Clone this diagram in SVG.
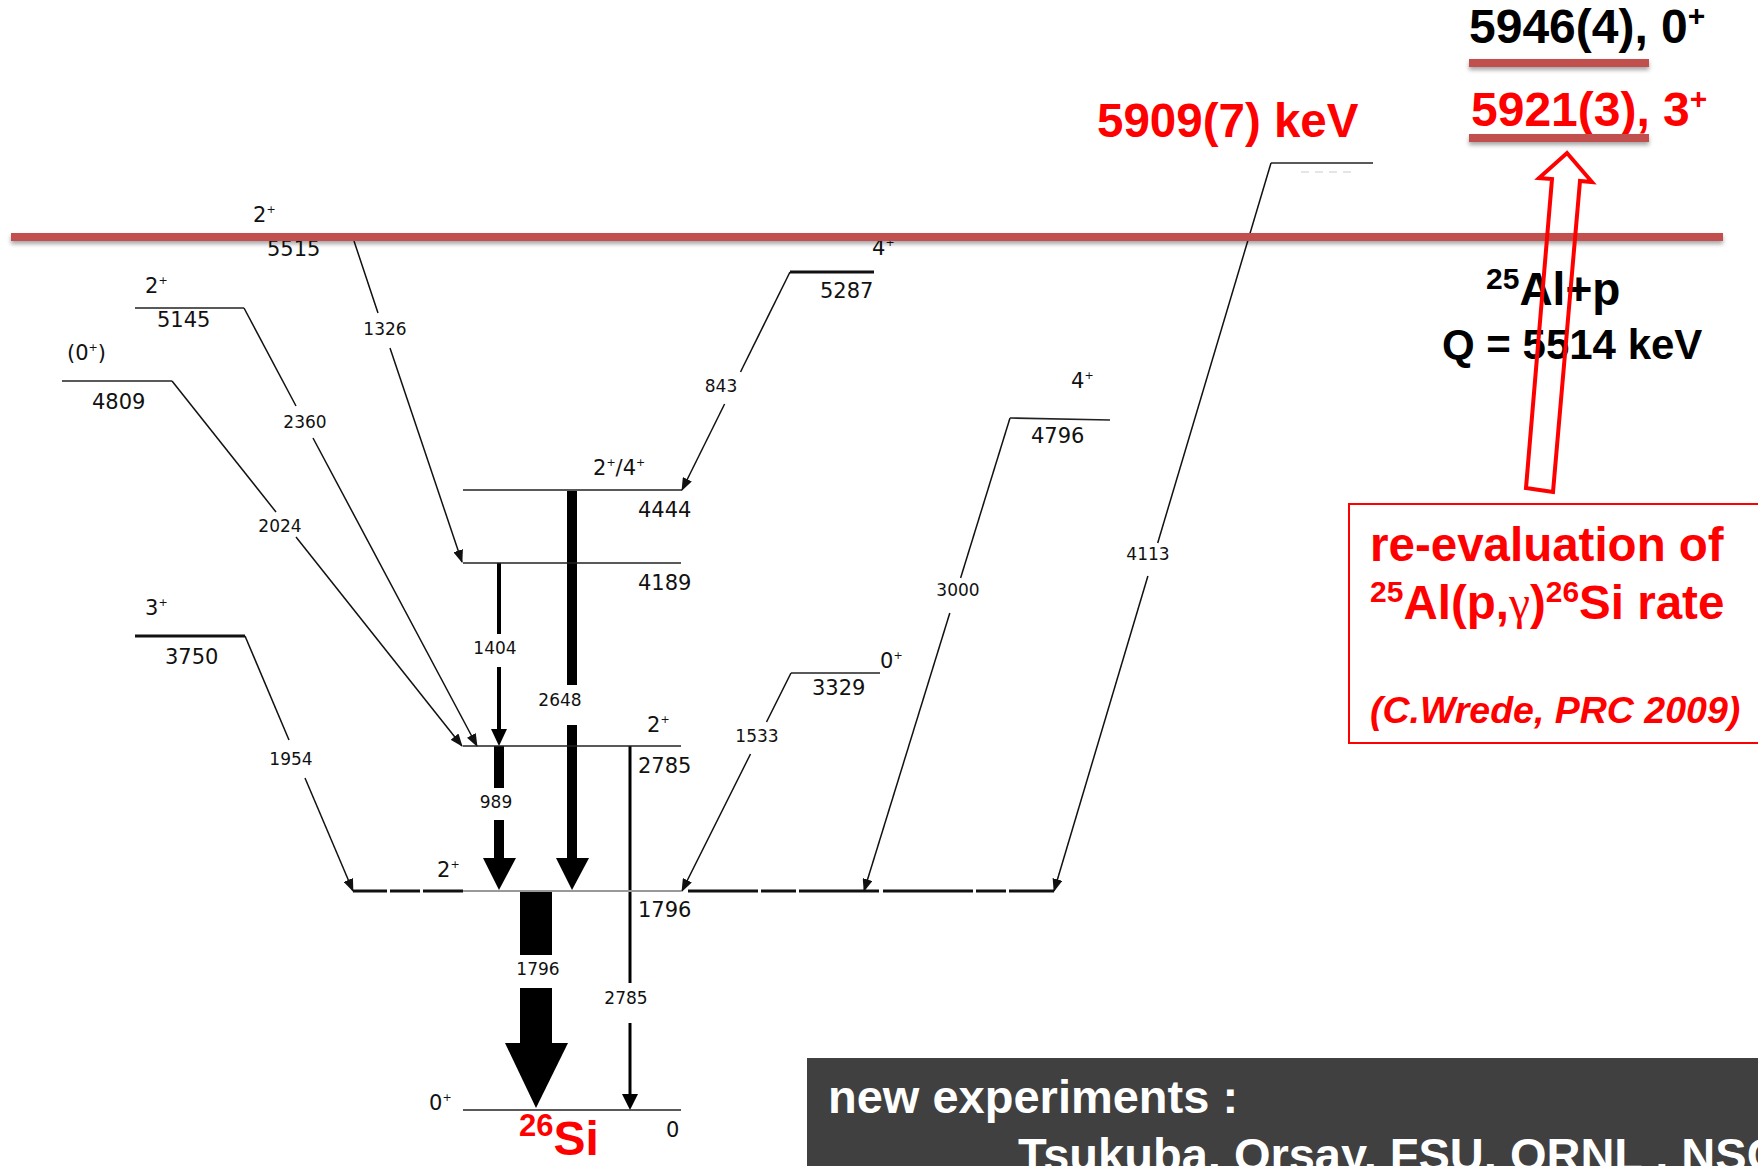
<svg xmlns="http://www.w3.org/2000/svg" width="1758" height="1166" viewBox="0 0 1758 1166">
<defs>
<marker id="ah" markerUnits="userSpaceOnUse" markerWidth="13" markerHeight="10" viewBox="0 0 13 10" refX="12" refY="5" orient="auto">
<path d="M0,0 L13,5 L0,10 z" fill="#111"/>
</marker>
<filter id="sh" x="-5%" y="-100%" width="110%" height="400%">
<feDropShadow dx="0" dy="3" stdDeviation="2" flood-color="#000" flood-opacity="0.35"/>
</filter>
<style>
.lv{stroke:#222;stroke-width:1.6;fill:none}
.lvk{stroke:#111;stroke-width:3;fill:none}
.tr{stroke:#111;stroke-width:1.5;fill:none}
.ar{stroke:#111;stroke-width:1.5;fill:none;marker-end:url(#ah)}
.en{font-family:"DejaVu Sans",sans-serif;font-size:21px;fill:#111}
.tl{font-family:"DejaVu Sans",sans-serif;font-size:17px;fill:#111;text-anchor:middle}
.sup{font-size:11px}
.b{font-family:"Liberation Sans",Arial,sans-serif;font-weight:bold}
.red{fill:#FF0000}
.bar{fill:#000}
.rl{fill:#C0504D}
</style>
</defs>
<rect width="1758" height="1166" fill="#fff"/>

<g id="connectors">
<!-- 1326 -->
<line class="tr" x1="354" y1="241" x2="378" y2="313"/>
<line class="ar" x1="390" y1="348" x2="462" y2="562"/>
<!-- 2360 -->
<line class="tr" x1="244" y1="308" x2="296" y2="406"/>
<line class="ar" x1="313" y1="438" x2="477" y2="746"/>
<!-- 2024 -->
<line class="tr" x1="172" y1="381" x2="276" y2="512"/>
<line class="ar" x1="296" y1="537" x2="462" y2="746"/>
<!-- 1954 -->
<line class="tr" x1="245" y1="636" x2="289" y2="740"/>
<line class="ar" x1="305" y1="778" x2="353" y2="891"/>
<!-- 843 -->
<line class="tr" x1="790" y1="272" x2="740.5" y2="372"/>
<line class="ar" x1="724.6" y1="404" x2="682" y2="490"/>
<!-- 1533 -->
<line class="tr" x1="791" y1="673" x2="766.5" y2="722"/>
<line class="ar" x1="750.5" y1="754" x2="682" y2="891"/>
<!-- 3000 -->
<line class="tr" x1="1010" y1="418" x2="960.6" y2="578"/>
<line class="ar" x1="949.8" y1="613" x2="864" y2="891"/>
<!-- 4113 -->
<line class="tr" x1="1271" y1="163" x2="1157.7" y2="543"/>
<line class="ar" x1="1147.9" y1="576" x2="1054" y2="891"/>
<!-- 1404 -->
<line x1="499" y1="563" x2="499" y2="634" stroke="#000" stroke-width="4"/>
<line x1="499" y1="667" x2="499" y2="731" stroke="#000" stroke-width="4"/>
<polygon class="bar" points="491,729 507,729 499,746"/>
<!-- 2648 -->
<rect class="bar" x="567" y="491" width="10" height="194"/>
<rect class="bar" x="567" y="725" width="10" height="135"/>
<polygon class="bar" points="556,858 589,858 572,890"/>
<!-- 989 -->
<rect class="bar" x="494" y="746" width="10" height="42"/>
<rect class="bar" x="494" y="820" width="10" height="40"/>
<polygon class="bar" points="483,858 516,858 499,890"/>
<!-- 2785 -->
<line x1="630" y1="746" x2="630" y2="983" stroke="#000" stroke-width="3"/>
<line x1="630" y1="1023" x2="630" y2="1096" stroke="#000" stroke-width="3"/>
<polygon class="bar" points="622,1094 638,1094 630,1110"/>
<!-- 1796 -->
<rect class="bar" x="520" y="891" width="32" height="64"/>
<rect class="bar" x="520" y="988" width="32" height="57"/>
<polygon class="bar" points="505,1043 568,1043 536,1108"/>
<!-- transition labels -->
<text class="tl" x="385" y="335">1326</text>
<text class="tl" x="305" y="428">2360</text>
<text class="tl" x="280" y="532">2024</text>
<text class="tl" x="291" y="765">1954</text>
<text class="tl" x="721" y="392">843</text>
<text class="tl" x="495" y="654">1404</text>
<text class="tl" x="560" y="706">2648</text>
<text class="tl" x="496" y="808">989</text>
<text class="tl" x="757" y="742">1533</text>
<text class="tl" x="958" y="596">3000</text>
<text class="tl" x="1148" y="560">4113</text>
<text class="tl" x="538" y="975">1796</text>
<text class="tl" x="626" y="1004">2785</text>
</g>

<g id="lvl-5515">
<text class="en" x="253" y="222">2<tspan class="sup" dy="-9">+</tspan></text>
<text class="en" x="267" y="256">5515</text>
</g>
<g id="lvl-5145">
<line class="lv" x1="135" y1="308" x2="244" y2="308"/>
<text class="en" x="145" y="293">2<tspan class="sup" dy="-9">+</tspan></text>
<text class="en" x="157" y="327">5145</text>
</g>
<g id="lvl-4809">
<line class="lv" x1="62" y1="381" x2="172" y2="381"/>
<text class="en" x="67" y="360">(0<tspan class="sup" dy="-9">+</tspan><tspan dy="9">)</tspan></text>
<text class="en" x="92" y="409">4809</text>
</g>
<g id="lvl-3750">
<line class="lvk" x1="135" y1="636" x2="245" y2="636"/>
<text class="en" x="145" y="615">3<tspan class="sup" dy="-9">+</tspan></text>
<text class="en" x="165" y="664">3750</text>
</g>
<g id="lvl-5287">
<line class="lvk" x1="790" y1="272" x2="874" y2="272"/>
<text class="en" x="872" y="255">4<tspan class="sup" dy="-9">+</tspan></text>
<text class="en" x="820" y="298">5287</text>
</g>
<g id="lvl-4444">
<line class="lv" x1="463" y1="490" x2="682" y2="490"/>
<text class="en" x="593" y="475">2<tspan class="sup" dy="-9">+</tspan><tspan dy="9">/4</tspan><tspan class="sup" dy="-9">+</tspan></text>
<text class="en" x="638" y="517">4444</text>
</g>
<g id="lvl-4189">
<line class="lv" x1="463" y1="563" x2="681" y2="563"/>
<text class="en" x="638" y="590">4189</text>
</g>
<g id="lvl-2785">
<line class="lv" x1="463" y1="746" x2="681" y2="746"/>
<text class="en" x="647" y="732">2<tspan class="sup" dy="-9">+</tspan></text>
<text class="en" x="638" y="773">2785</text>
</g>
<g id="lvl-3329">
<line class="lv" x1="791" y1="673" x2="880" y2="673" stroke="#555"/>
<text class="en" x="880" y="668">0<tspan class="sup" dy="-9">+</tspan></text>
<text class="en" x="812" y="695">3329</text>
</g>
<g id="lvl-4796">
<line class="lv" x1="1010" y1="418" x2="1110" y2="420"/>
<text class="en" x="1071" y="388">4<tspan class="sup" dy="-9">+</tspan></text>
<text class="en" x="1031" y="443">4796</text>
</g>
<g id="lvl-5909">
<line class="lv" x1="1271" y1="163" x2="1373" y2="163"/>
<line x1="1301" y1="172" x2="1354" y2="172" stroke="#ddd" stroke-width="1.5" stroke-dasharray="8 6"/>
</g>
<g id="lvl-1796">
<line class="lvk" x1="353" y1="891" x2="463" y2="891" stroke-dasharray="34 3 30 3 40 2"/>
<line x1="463" y1="891" x2="681" y2="891" stroke="#999" stroke-width="2"/>
<line class="lvk" x1="688" y1="891" x2="1054" y2="891" stroke-dasharray="70 3 35 3 80 4 90 3 30 3"/>
<text class="en" x="437" y="877">2<tspan class="sup" dy="-9">+</tspan></text>
<text class="en" x="638" y="917">1796</text>
</g>
<g id="lvl-0">
<line class="lv" x1="463" y1="1110" x2="681" y2="1110"/>
<text class="en" x="429" y="1110">0<tspan class="sup" dy="-9">+</tspan></text>
<text class="en" x="666" y="1137">0</text>
<text class="b red" x="519" y="1155"><tspan font-size="31" dy="-19">26</tspan><tspan font-size="48" dy="19">Si</tspan></text>
</g>

<g id="threshold">
<rect class="rl" x="11" y="233" width="1712" height="8" filter="url(#sh)"/>
<text class="b" x="1486" y="305" font-size="46"><tspan font-size="30" dy="-16">25</tspan><tspan dy="16">Al+p</tspan></text>
<text class="b" x="1442" y="359" font-size="42">Q = 5514 keV</text>
</g>

<g id="resonances">
<text class="b red" x="1097" y="137" font-size="47.5">5909(7) keV</text>
<text class="b" x="1469" y="43" font-size="48" fill="#000">5946(4), 0<tspan font-size="30" dy="-17">+</tspan></text>
<rect class="rl" x="1469" y="59" width="180" height="8" filter="url(#sh)"/>
<text class="b red" x="1471" y="126" font-size="48">5921(3), 3<tspan font-size="30" dy="-17">+</tspan></text>
<rect class="rl" x="1469" y="134" width="180" height="8" filter="url(#sh)"/>
</g>

<g id="hollow-arrow">
<polygon points="1526,488 1552,179 1539,178 1567,153 1592,182 1580,181 1553,492" fill="none" stroke="#FF0000" stroke-width="4" stroke-linejoin="miter"/>
</g>

<g id="note-box">
<rect x="1349" y="504" width="420" height="239" fill="none" stroke="#FF0000" stroke-width="2"/>
<text class="b red" x="1370" y="561" font-size="47.5">re-evaluation of</text>
<text class="b red" x="1370" y="619" font-size="47.5"><tspan font-size="30" dy="-17">25</tspan><tspan dy="17">Al(p,</tspan><tspan font-family="'Liberation Serif',serif" font-weight="normal">γ</tspan>)<tspan font-size="30" dy="-17">26</tspan><tspan dy="17">Si rate</tspan></text>
<text class="b red" x="1370" y="723" font-size="37.5" font-style="italic">(C.Wrede, PRC 2009)</text>
</g>

<g id="experiments-box">
<rect x="807" y="1058" width="960" height="120" fill="#404040"/>
<text class="b" x="828" y="1113" font-size="47" fill="#fff">new experiments :</text>
<text class="b" x="1018" y="1171" font-size="47" fill="#fff">Tsukuba, Orsay, FSU, ORNL , NSCL</text>
</g>
</svg>
